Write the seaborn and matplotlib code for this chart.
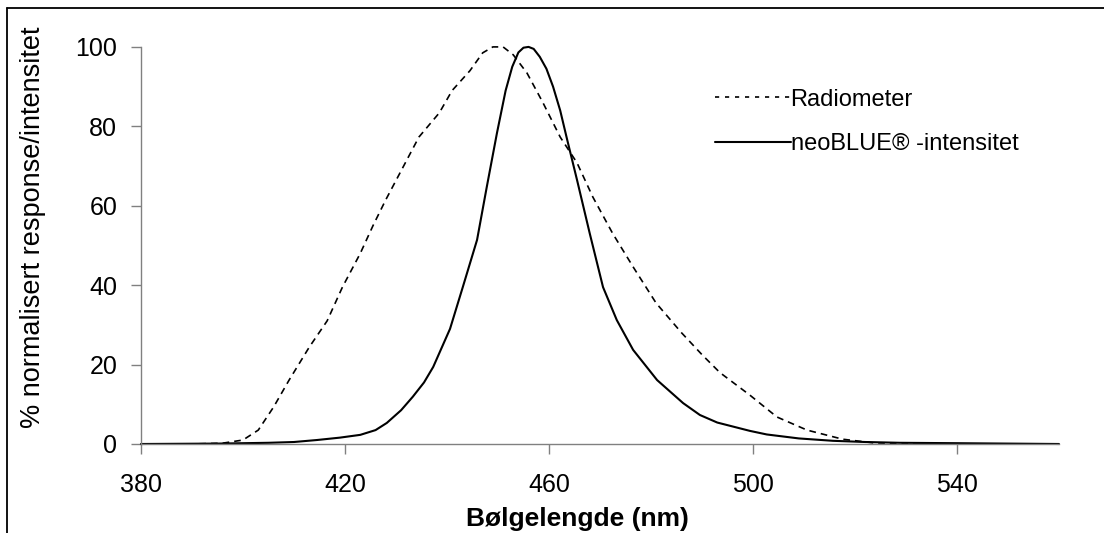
import pandas as pd
import seaborn as sns
import matplotlib.pyplot as plt
from matplotlib.lines import Line2D

# Radiometer response (dashed)
radio_nm = [380, 390, 396, 400, 403, 406, 409, 413, 416.5, 419.5, 423, 425.5, 428, 431.5,
            434.5, 438.5, 441, 444.5, 447, 449, 451, 453, 455.7, 458.8, 462.2, 465.5, 468.6,
            472.5, 476.5, 481, 486, 490, 493.5, 499.4, 504.7, 510.6, 517.6, 523.5, 530, 540,
            550, 560]
radio_val = [0, 0, 0.2, 1, 3.5, 9.3, 16, 24.4, 31, 39.5, 48, 55, 61.5, 70,
             77.3, 83.4, 89, 94, 98.5, 100, 100, 98, 93.4, 86, 77.3, 70.8, 62.2,
             53, 44.6, 35.5, 28, 22.5, 18, 12.3, 6.8, 3.5, 1.2, 0.3, 0.1, 0,
             0, 0]

# neoBLUE intensity (solid)
neo_nm = [380, 395, 405, 410, 414.5, 419, 423, 426, 428.2, 431, 433.3, 435.5, 437.3, 440.6,
          443.1, 445.9, 447.8, 449.8, 451.5, 452.8, 454, 455, 456, 457, 458.2, 459.5, 460.8,
          462.2, 463.5, 465.5, 468, 470.6, 473.3, 476.5, 481.2, 486.3, 489.6, 493, 499.4,
          502.7, 509, 515.7, 522, 528.8, 540, 550, 560]
neo_val = [0, 0.1, 0.3, 0.5, 1, 1.6, 2.3, 3.5, 5.3, 8.5, 11.9, 15.5, 19.4, 29,
           39.5, 51.4, 64.7, 78.3, 89, 95, 98.6, 99.8, 100, 99.5, 97.5, 94.5, 90,
           84, 77, 66.5, 53, 39.5, 31.2, 23.7, 16.1, 10.3, 7.3, 5.4, 3.3,
           2.4, 1.4, 0.8, 0.5, 0.3, 0.2, 0.1, 0]

x_ticks = [380, 420, 460, 500, 540]
y_ticks = [0, 20, 40, 60, 80, 100]

sns.set_style("white")
plt.rcParams['font.family'] = ['Liberation Sans', 'DejaVu Sans']
plt.rcParams['text.color'] = 'black'

fig = plt.figure(figsize=(11.04, 5.33), dpi=100)
ax = fig.add_axes([0.1277, 0.167, 0.9592 - 0.1277, 0.912 - 0.167])

radio = pd.DataFrame({"nm": radio_nm, "val": radio_val})
neo = pd.DataFrame({"nm": neo_nm, "val": neo_val})

sns.lineplot(x="nm", y="val", data=radio, ax=ax, color="black", linewidth=1.2,
             label="Radiometer", sort=False)
sns.lineplot(x="nm", y="val", data=neo, ax=ax, color="black", linewidth=1.5,
             label="neoBLUE\u00ae -intensitet", sort=False)
ax.lines[0].set_dashes((4, 3))

ax.set_xlim(380, 560)
ax.set_ylim(0, 100)
ax.set_xticks(x_ticks)
ax.set_yticks(y_ticks)
ax.set_xlabel("")
ax.set_ylabel("")
ax.tick_params(axis="both", labelsize=18, direction="out", length=7, width=1,
               color="#808080", labelcolor="black", left=True, bottom=True)
ax.tick_params(axis="x", pad=14)
ax.tick_params(axis="y", pad=10)

for s in ["top", "right"]:
    ax.spines[s].set_visible(False)
for s in ["left", "bottom"]:
    ax.spines[s].set_color("#808080")
    ax.spines[s].set_linewidth(1)
for ln in ax.lines:
    ln.set_clip_on(False)

fig.text(577 / 1104, 1 - 519 / 533, "Bølgelengde (nm)", fontsize=19, fontweight="bold",
         ha="center", va="center", color="black")
fig.text(33 / 1104, 1 - 227 / 533, "% normalisert response/intensitet", fontsize=19.5,
         rotation=90, ha="center", va="center", color="black")

leg = ax.legend(loc="upper left", bbox_to_anchor=((715 - 141) / 918, 0.895), frameon=False,
                fontsize=17, handlelength=3.2, handletextpad=0.0, labelspacing=0.95,
                borderpad=0, borderaxespad=0, labelcolor="black")
leg.get_lines()[0].set_dashes((2.5, 3.5))

# outer frame (top and left edge)
fig.add_artist(Line2D([7 / 1104, 1], [1 - 8 / 533, 1 - 8 / 533], color="black", linewidth=1.3,
                      transform=fig.transFigure))
fig.add_artist(Line2D([7 / 1104, 7 / 1104], [0, 1 - 8 / 533], color="black", linewidth=1.3,
                      transform=fig.transFigure))

plt.savefig("out.png", dpi=100)
